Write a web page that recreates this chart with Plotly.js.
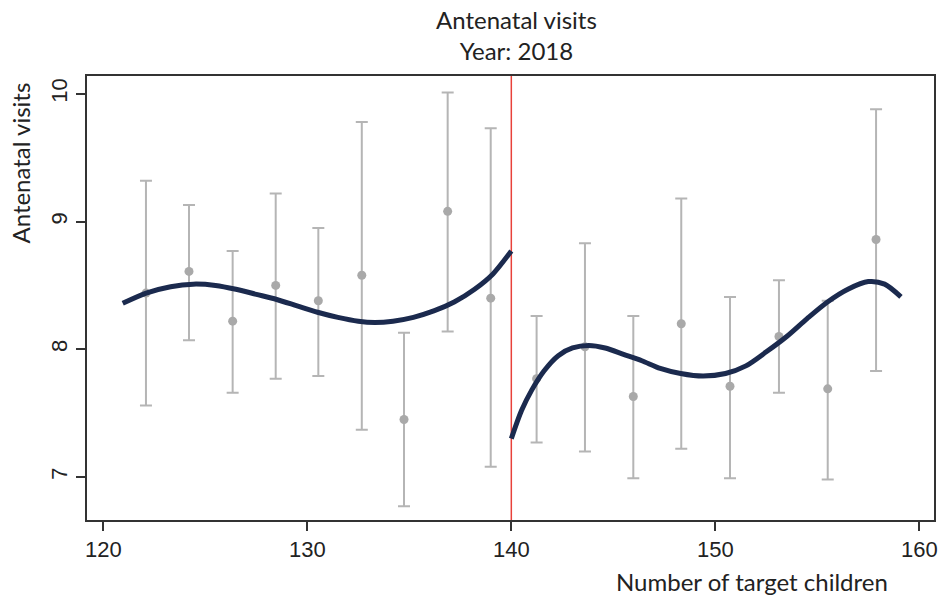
<!DOCTYPE html>
<html>
<head>
<meta charset="utf-8">
<script src="https://cdn.plot.ly/plotly-3.0.1.min.js"></script>
<style>html,body{margin:0;padding:0;background:#fff;}#chart{width:946px;height:604px;}</style>
</head>
<body>
<div id="chart"></div>
<script>
// Binned means with 95% CIs
const binX    = [122.09, 124.20, 126.34, 128.45, 130.54, 132.67, 134.74, 136.88, 138.99, 141.24, 143.61, 145.98, 148.33, 150.72, 153.12, 155.51, 157.88];
const binMean = [8.44, 8.61, 8.22, 8.50, 8.38, 8.58, 7.45, 9.08, 8.40, 7.77, 8.02, 7.63, 8.20, 7.71, 8.10, 7.69, 8.86];
const ciHigh  = [9.32, 9.13, 8.77, 9.22, 8.95, 9.78, 8.13, 10.01, 9.73, 8.26, 8.83, 8.26, 9.18, 8.41, 8.54, 8.38, 9.88];
const ciLow   = [7.56, 8.07, 7.66, 7.77, 7.79, 7.37, 6.77, 8.14, 7.08, 7.27, 7.20, 6.99, 7.22, 6.99, 7.66, 6.98, 7.83];

// Fitted polynomial, left of cutoff
const fitLeftX = [120.95, 122.1, 123.3, 124.4, 125.5, 126.5, 127.5, 128.5, 129.5, 130.5, 131.5, 132.5, 133.3, 134.2, 135.2, 136.2, 137.2, 138.2, 139.1, 140.0];
const fitLeftY = [8.36, 8.44, 8.49, 8.51, 8.50, 8.47, 8.43, 8.39, 8.34, 8.29, 8.25, 8.22, 8.21, 8.22, 8.25, 8.30, 8.37, 8.47, 8.59, 8.77];
// Fitted polynomial, right of cutoff
const fitRightX = [140.0, 140.5, 141.0, 141.6, 142.3, 143.0, 143.8, 144.6, 145.5, 146.4, 147.3, 148.3, 149.4, 150.5, 151.5, 152.5, 153.5, 154.5, 155.5, 156.5, 157.5, 158.3, 159.1];
const fitRightY = [7.30, 7.52, 7.68, 7.83, 7.95, 8.01, 8.03, 8.01, 7.96, 7.91, 7.85, 7.81, 7.79, 7.81, 7.87, 7.98, 8.10, 8.24, 8.37, 8.47, 8.53, 8.51, 8.41];

const cutoff = 140;
const xTicks = [120, 130, 140, 150, 160];
const yTicks = [7, 8, 9, 10];

const errPlus  = ciHigh.map((h, i) => h - binMean[i]);
const errMinus = ciLow.map((l, i) => binMean[i] - l);

const textFont = 'Lato, "Open Sans", sans-serif';
const tickFont = '"Liberation Sans", Arial, sans-serif';

const traces = [
  {
    type: 'scatter', mode: 'markers', x: binX, y: binMean,
    marker: {color: '#a9a9a9', size: 9},
    error_y: {type: 'data', symmetric: false, array: errPlus, arrayminus: errMinus,
              color: '#b5b5b5', thickness: 2, width: 6},
    showlegend: false, hoverinfo: 'x+y'
  },
  {
    type: 'scatter', mode: 'lines', x: fitLeftX, y: fitLeftY,
    line: {color: '#1b2a4e', width: 5, shape: 'spline', smoothing: 0.8},
    showlegend: false
  },
  {
    type: 'scatter', mode: 'lines', x: fitRightX, y: fitRightY,
    line: {color: '#1b2a4e', width: 5, shape: 'spline', smoothing: 0.8},
    showlegend: false
  }
];

const axisCommon = {
  showgrid: false, zeroline: false, showline: true, mirror: true,
  linecolor: '#333', linewidth: 2, ticks: 'outside', ticklen: 9, tickwidth: 2,
  tickcolor: '#333', tickfont: {family: tickFont, size: 22, color: '#222'}
};

const layout = {
  width: 946, height: 604,
  margin: {l: 87, r: 12, t: 76, b: 84, pad: 0},
  paper_bgcolor: '#fff', plot_bgcolor: '#fff',
  xaxis: Object.assign({}, axisCommon, {
    range: [119.2, 160.72], tickvals: xTicks, ticktext: xTicks.map(String)
  }),
  yaxis: Object.assign({}, axisCommon, {
    range: [6.663, 10.14], tickvals: yTicks, ticktext: yTicks.map(String), tickangle: -90
  }),
  shapes: [{
    type: 'line', xref: 'x', yref: 'paper', x0: cutoff, x1: cutoff, y0: 0, y1: 1,
    line: {color: '#e8413a', width: 1.5}, layer: 'below'
  }],
  annotations: [
    {text: 'Antenatal visits<br>Year: 2018', xref: 'paper', yref: 'paper',
     x: (516 - 87) / 847, y: 1 + (76 - 3) / 444,
     xanchor: 'center', yanchor: 'top', showarrow: false,
     font: {family: textFont, size: 24, color: '#222'}},
    {text: 'Antenatal visits', xref: 'paper', yref: 'paper', x: -0.0785, y: 0.804,
     xanchor: 'center', yanchor: 'middle', textangle: -90, showarrow: false,
     font: {family: textFont, size: 24, color: '#222'}},
    {text: 'Number of target children', xref: 'paper', yref: 'paper', x: 0.948, y: -0.139,
     xanchor: 'right', yanchor: 'middle', showarrow: false,
     font: {family: textFont, size: 24, color: '#222'}}
  ]
};

Plotly.newPlot('chart', traces, layout, {displayModeBar: false, staticPlot: true});
</script>
</body>
</html>
